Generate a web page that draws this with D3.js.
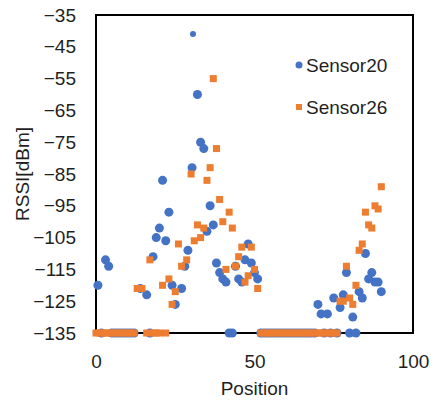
<!DOCTYPE html>
<html>
<head>
<meta charset="utf-8">
<script src="https://cdn.jsdelivr.net/npm/d3@7"></script>
<style>
    body { margin: 0; background: #fff; }
    svg text { font-family: 'Liberation Sans', Arial, sans-serif; }
</style>
</head>
<body>
<div class="chart"></div>
<script>
// Sensor20
var s20Pos = [
    0.6, 1.7, 3, 4, 5, 6, 7, 8, 9, 10, 11, 12, 14, 16, 17, 18, 19, 20, 21, 22,
    23, 24, 25, 27, 28, 29, 30.3, 30.6, 32, 33, 34, 35, 36, 37, 38, 39, 40, 41,
    42, 43, 44, 45, 46, 47, 48, 49, 50, 51, 52, 53, 54, 55, 56, 57, 58, 59, 60,
    61, 62, 63, 64, 65, 66, 67, 68, 69, 70, 71, 72, 73, 74, 75, 76, 77, 78, 79,
    80, 81, 82, 83, 84, 85, 86, 87, 88, 89, 90
]
var s20Rssi = [
    -120, -135, -112, -114, -135, -135, -135, -135, -135, -135, -135, -135, -121, -123, -135, -111, -105, -102, -87, -106,
    -97, -120, -126, -121, -114, -109, -83, -41, -60, -75, -77, -103, -95, -101, -113, -116, -118, -119,
    -135, -135, -114, -118, -119, -112, -107, -113, -116, -118, -135, -135, -135, -135, -135, -135, -135, -135, -135,
    -135, -135, -135, -135, -135, -135, -135, -135, -135, -126, -129, -135, -129, -135, -124, -135, -127, -123, -116,
    -135, -130, -135, -122, -124, -110, -118, -116, -119, -119, -122
]
// Sensor26
var s26Pos = [
    0, 1, 2, 3, 4, 5, 6, 7, 8, 9, 10, 11, 12, 13, 14.5, 16, 17, 18, 19, 20, 21, 22,
    23, 24, 25, 26, 27, 28.6, 30, 31, 32, 33, 34, 35, 36, 37, 38, 39, 40, 41, 42,
    43, 44, 45, 46, 47, 48, 49, 50, 51, 52, 53, 54, 55, 56, 57, 58, 59, 60, 61, 62,
    63, 64, 65, 66, 67, 68, 69, 70, 71, 72, 73, 74, 75, 76, 77, 78, 79, 80, 81, 82,
    83, 84, 85, 86, 87, 88, 89, 90
]
var s26Rssi = [
    -135, -135, -135, -135, -135, -135, -135, -135, -135, -135, -135, -135, -135, -121, -121, -135, -112, -135, -135, -135, -120, -135,
    -118, -126, -122, -107, -114, -112, -85, -106, -101, -105, -102, -87, -83, -55, -77, -93, -100, -115, -97,
    -102, -114, -111, -108, -119, -117, -108, -115, -121, -135, -135, -135, -135, -135, -135, -135, -135, -135, -135, -135,
    -135, -135, -135, -135, -135, -135, -135, -135, -135, -135, -135, -135, -135, -135, -125, -125, -114, -124, -126, -120,
    -109, -107, -97, -101, -102, -95, -96, -89
]
var seriesNames = ['Sensor20', 'Sensor26']
var xTicks = [0, 50, 100]
var yTicks = [-135, -125, -115, -105, -95, -85, -75, -65, -55, -45, -35]

var width = 433,
    height = 400,
    mLeft = 96,
    mRight = 413,
    mTop = 15,
    mBottom = 333,
    blue = '#4472C4',
    orange = '#ED7D31',
    textColor = '#1f1f1f'

var svg = d3
    .select('.chart')
    .append('svg')
    .attr('width', width)
    .attr('height', height)

var x = d3.scaleLinear().domain([0, 100]).range([mLeft, mRight])
var y = d3.scaleLinear().domain([-135, -35]).range([mBottom, mTop])

// оси без линий, только подписи
svg.append('g')
    .attr('transform', 'translate(0,' + mBottom + ')')
    .call(d3.axisBottom(x).tickValues(xTicks).tickSize(0).tickPadding(22))
    .call(g => g.select('.domain').remove())
    .selectAll('text')
    .style('font-size', '19px')
    .attr('fill', textColor)

svg.append('g')
    .attr('transform', 'translate(' + mLeft + ',0)')
    .call(d3.axisLeft(y).tickValues(yTicks).tickSize(0).tickPadding(20))
    .call(g => g.select('.domain').remove())
    .selectAll('text')
    .style('font-size', '19px')
    .attr('fill', textColor)

// рамка
svg.append('rect')
    .attr('x', mLeft)
    .attr('y', mTop)
    .attr('width', mRight - mLeft)
    .attr('height', mBottom - mTop)
    .attr('fill', 'none')
    .attr('stroke', '#000')
    .attr('stroke-width', 2)

// Sensor20 - круги
svg.append('g')
    .selectAll('circle')
    .data(s20Pos)
    .enter()
    .append('circle')
    .attr('cx', d => x(d))
    .attr('cy', (d, i) => y(s20Rssi[i]))
    .attr('r', (d, i) => (s20Rssi[i] > -45 ? 3 : 4.5))
    .attr('fill', blue)

// Sensor26 - квадраты
var sq = 7
svg.append('g')
    .selectAll('rect')
    .data(s26Pos)
    .enter()
    .append('rect')
    .attr('x', d => x(d) - sq / 2)
    .attr('y', (d, i) => y(s26Rssi[i]) - sq / 2)
    .attr('width', sq)
    .attr('height', sq)
    .attr('fill', orange)

// подписи осей
svg.append('text')
    .attr('x', (mLeft + mRight) / 2)
    .attr('y', 395)
    .attr('text-anchor', 'middle')
    .style('font-size', '19px')
    .attr('fill', textColor)
    .text('Position')

svg.append('text')
    .attr('transform', 'translate(29,' + (mTop + mBottom) / 2 + ') rotate(-90)')
    .attr('text-anchor', 'middle')
    .style('font-size', '19px')
    .attr('fill', textColor)
    .text('RSSI[dBm]')

// легенда
var legend = svg.append('g')
legend.append('circle').attr('cx', 299).attr('cy', 65).attr('r', 3.5).attr('fill', blue)
legend.append('rect').attr('x', 296).attr('y', 104).attr('width', 6).attr('height', 6).attr('fill', orange)
legend.selectAll('text')
    .data(seriesNames)
    .enter()
    .append('text')
    .attr('x', 306)
    .attr('y', (d, i) => 72 + i * 42)
    .style('font-size', '19px')
    .attr('fill', textColor)
    .text(d => d)
</script>
</body>
</html>
